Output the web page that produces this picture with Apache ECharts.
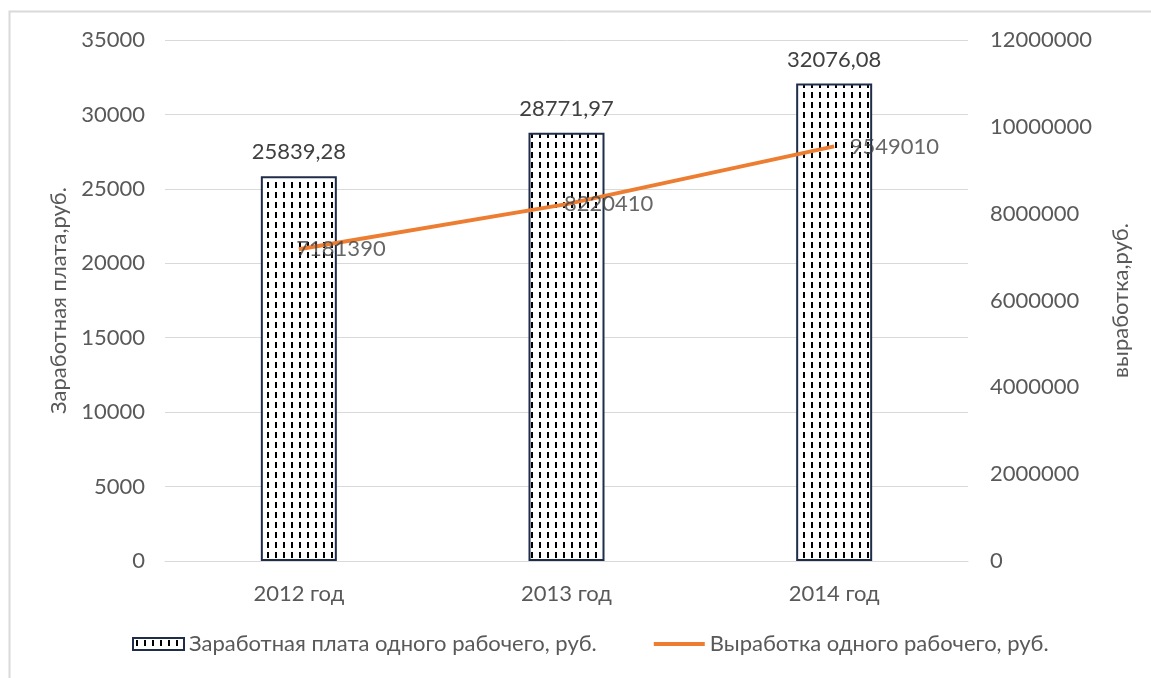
<!DOCTYPE html>
<html>
<head>
<meta charset="utf-8">
<script src="https://cdn.jsdelivr.net/npm/echarts@6/dist/echarts.min.js"></script>
<style>
html,body{margin:0;padding:0;background:#fff;}
#main{width:1151px;height:678px;}
</style>
</head>
<body>
<div id="main"></div>
<script>
const categories = ['2012 год', '2013 год', '2014 год'];
const wages = [25839.28, 28771.97, 32076.08];
const output = [7181390, 8220410, 9549010];
const wageName = 'Заработная плата одного рабочего, руб.';
const outputName = 'Выработка одного рабочего, руб.';
const leftAxisName = 'Заработная плата,руб.';
const rightAxisName = 'выработка,руб.';

function makePattern(){
  const c = document.createElement('canvas');
  c.width = 8; c.height = 10;
  const ctx = c.getContext('2d');
  ctx.fillStyle = '#ffffff';
  ctx.fillRect(0,0,8,10);
  ctx.fillStyle = '#000000';
  ctx.fillRect(3,2,2,6);
  return c;
}
const pattern = makePattern();

const font = 'Lato, "Open Sans", sans-serif';
const fs = 22;
const chart = echarts.init(document.getElementById('main'));
const lineOffsets = [[0,0],[0,0],[18,0]];
chart.setOption({
  animation: false,
  textStyle: {fontFamily: font},
  graphic: [{
    type: 'rect', shape: {x: 9.5, y: 11.5, width: 1200, height: 700},
    style: {fill: 'none', stroke: '#d9d9d9', lineWidth: 2}, silent: true
  }],
  grid: {left: 165, right: 183, top: 40, bottom: 117},
  legend: {
    bottom: 18, left: 127, itemGap: 57, itemWidth: 51, itemHeight: 12,
    symbolKeepAspect: true,
    textStyle: {color: '#595959', fontSize: fs, fontFamily: font},
    data: [
      {name: wageName, icon: 'rect'},
      {name: outputName, icon: 'path://M0,0H51V4H0Z', itemStyle: {color: '#ED7D31', borderWidth: 0}}
    ]
  },
  xAxis: {
    type: 'category', data: categories,
    axisLine: {lineStyle: {color: '#d9d9d9', width: 1}},
    axisTick: {show: false},
    axisLabel: {color: '#595959', fontSize: fs, margin: 22, fontFamily: font}
  },
  yAxis: [{
    type: 'value', min: 0, max: 35000, interval: 5000,
    name: leftAxisName, nameLocation: 'middle', nameRotate: 90, nameGap: 95,
    nameTextStyle: {color: '#595959', fontSize: fs, fontFamily: font},
    axisLine: {show: false}, axisTick: {show: false},
    axisLabel: {color: '#595959', fontSize: fs, margin: 20, fontFamily: font, formatter: v => String(v)},
    splitLine: {lineStyle: {color: '#d9d9d9', width: 1}}
  }, {
    type: 'value', min: 0, max: 12000000, interval: 2000000,
    name: rightAxisName, nameLocation: 'middle', nameRotate: 90, nameGap: 142,
    nameTextStyle: {color: '#595959', fontSize: fs, fontFamily: font},
    axisLine: {show: false}, axisTick: {show: false},
    axisLabel: {color: '#595959', fontSize: fs, margin: 22, fontFamily: font, formatter: v => String(v)},
    splitLine: {show: false}
  }],
  series: [{
    name: wageName, type: 'bar', yAxisIndex: 0, barWidth: 76,
    data: wages,
    itemStyle: {color: {image: pattern, repeat: 'repeat'}, borderColor: '#1f2d4a', borderWidth: 2},
    label: {
      show: true, position: 'top', distance: 13, color: '#404040', fontSize: fs, fontFamily: font,
      formatter: p => String(p.value).replace('.', ',')
    }
  }, {
    name: outputName, type: 'line', yAxisIndex: 1,
    data: output,
    symbol: 'none',
    lineStyle: {color: '#ED7D31', width: 4},
    itemStyle: {color: '#ED7D31'},
    z: 5
  }, {
    name: 'outputLabels', type: 'scatter', yAxisIndex: 1,
    data: output.map((v, i) => ({value: v, label: {offset: lineOffsets[i]}})),
    symbolSize: 1,
    itemStyle: {color: 'rgba(0,0,0,0)'},
    label: {show: true, position: 'right', distance: -3, color: '#404040', fontSize: fs, fontFamily: font},
    z: 6
  }]
});
</script>
</body>
</html>
